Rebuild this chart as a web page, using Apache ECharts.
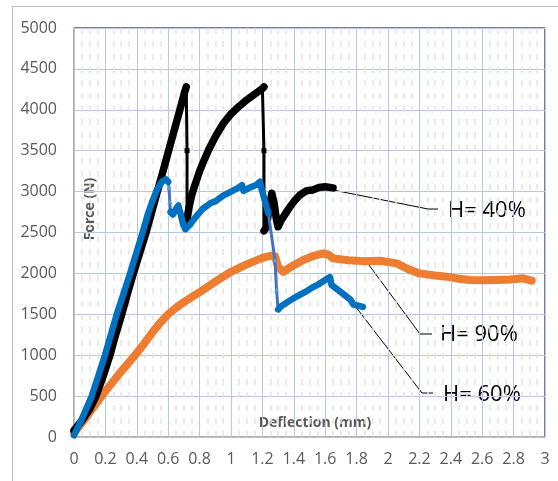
<!DOCTYPE html>
<html>
<head>
<meta charset="utf-8">
<script src="https://cdn.jsdelivr.net/npm/echarts@6/dist/echarts.min.js"></script>
<style>html,body{margin:0;padding:0;background:#fff;}#c{width:558px;height:481px;}</style>
</head>
<body>
<div id="c"></div>
<script>
// Deflection (mm), Force (N)
const h40 = [[0,80],[0.05,200],[0.1,340],[0.14,500],[0.185,740],[0.229,1000],[0.265,1250],[0.304,1500],[0.34,1750],[0.378,2000],[0.42,2260],[0.459,2500],[0.495,2750],[0.531,3000],[0.57,3270],[0.6,3480],[0.65,3830],[0.69,4110],[0.705,4220],[0.715,4280],[0.72,3500],[0.72,2620],[0.725,2720],[0.735,2830],[0.75,2960],[0.77,3080],[0.8,3250],[0.83,3390],[0.86,3520],[0.9,3670],[0.95,3830],[1.0,3950],[1.05,4040],[1.1,4120],[1.15,4190],[1.2,4260],[1.21,4280],[1.21,3500],[1.21,2520],[1.225,2560],[1.24,2760],[1.26,2980],[1.275,2850],[1.29,2650],[1.3,2570],[1.32,2650],[1.35,2740],[1.376,2815],[1.41,2900],[1.44,2960],[1.48,3010],[1.52,3020],[1.56,3050],[1.6,3060],[1.65,3045]];
const h60 = [[0,20],[0.05,220],[0.113,500],[0.155,750],[0.197,1000],[0.235,1250],[0.272,1500],[0.315,1750],[0.357,2000],[0.397,2250],[0.437,2500],[0.47,2720],[0.495,2860],[0.53,3030],[0.56,3120],[0.585,3150],[0.6,3120],[0.605,3050],[0.61,2880],[0.615,2750],[0.63,2720],[0.65,2790],[0.665,2830],[0.68,2720],[0.695,2600],[0.71,2540],[0.74,2600],[0.78,2700],[0.82,2790],[0.85,2830],[0.87,2860],[0.9,2880],[0.95,2950],[1.0,3000],[1.04,3040],[1.07,3080],[1.08,3010],[1.12,3050],[1.16,3080],[1.185,3120],[1.195,3030],[1.238,2734],[1.28,2164],[1.29,1800],[1.3,1560],[1.32,1600],[1.36,1650],[1.42,1720],[1.48,1780],[1.52,1830],[1.56,1870],[1.6,1920],[1.63,1955],[1.64,1860],[1.68,1800],[1.72,1740],[1.76,1680],[1.78,1620],[1.84,1590]];
const h90 = [[0,50],[0.05,170],[0.1,300],[0.176,500],[0.25,680],[0.3,800],[0.389,1000],[0.45,1150],[0.5,1280],[0.55,1400],[0.6,1500],[0.65,1580],[0.7,1650],[0.75,1710],[0.8,1770],[0.9,1900],[1.0,2020],[1.1,2110],[1.2,2190],[1.25,2215],[1.28,2210],[1.3,2080],[1.333,2020],[1.4,2100],[1.46,2164],[1.52,2210],[1.588,2245],[1.62,2230],[1.65,2184],[1.75,2160],[1.84,2150],[1.95,2155],[2.055,2123],[2.12,2060],[2.2,2000],[2.3,1975],[2.374,1960],[2.45,1935],[2.52,1919],[2.6,1915],[2.69,1919],[2.78,1925],[2.86,1940],[2.915,1911]];
const xTicks = {min:0, max:3, step:0.2};
const yTicks = {min:0, max:5000, step:500};
const labels = ['H= 40%','H= 90%','H= 60%'];

// Sparse (steep) stretches are drawn thin; dense stretches thick, as in the source.
function denseOnly(pts, steep) {
  const out = [];
  for (let i = 0; i < pts.length; i++) {
    out.push(pts[i]);
    if (i < pts.length - 1) {
      const dx = pts[i+1][0] - pts[i][0], dy = pts[i+1][1] - pts[i][1];
      if (dx <= 0 || Math.abs(dy / dx) > steep) out.push(null);
    }
  }
  return out;
}

const chart = echarts.init(document.getElementById('c'), null, {renderer:'canvas'});
const thin = (data, color, width, symbol, symColor, z) => ({
  type:'line', data, z, showSymbol:true, showAllSymbol:true, symbol, symbolSize:5,
  itemStyle:{color:symColor, borderWidth:0}, animation:false, silent:true,
  lineStyle:{color, width, join:'round', cap:'round'}
});
const thick = (data, color, width, z) => ({
  type:'line', data, z, showSymbol:false, symbol:'none', animation:false, connectNulls:false, silent:true,
  lineStyle:{color, width, join:'round', cap:'round'}
});
chart.setOption({
  backgroundColor:'#fff',
  animation:false,
  grid:{left:74, right:13, top:28, bottom:44, show:true, borderColor:'#000', borderWidth:1, backgroundColor:'transparent'},
  xAxis:{type:'value', min:xTicks.min, max:xTicks.max, interval:xTicks.step,
    axisLine:{lineStyle:{color:'#bfbfbf', width:1.5}}, axisTick:{show:false},
    axisLabel:{color:'#595959', fontSize:16, fontFamily:'Open Sans', margin:14, formatter:v=>String(+v.toFixed(1))},
    splitLine:{lineStyle:{color:'#b4c7e7', width:1}},
    minorTick:{show:false, splitNumber:4},
    minorSplitLine:{show:true, lineStyle:{color:'#e3e3e3', width:1.5, type:[6,7]}}
  },
  yAxis:{type:'value', min:yTicks.min, max:yTicks.max, interval:yTicks.step,
    axisLine:{show:true, lineStyle:{color:'#bfbfbf', width:1.5}}, axisTick:{show:false},
    axisLabel:{color:'#595959', fontSize:16, fontFamily:'Open Sans', margin:17, formatter:v=>String(v)},
    splitLine:{lineStyle:{color:'#b4c7e7', width:1}}
  },
  series:[
    thin(h90, '#ED7D31', 3, 'circle', '#ED7D31', 2),
    thick(denseOnly(h90, 20000), '#ED7D31', 8, 3),
    thin(h40, '#000000', 3, 'rect', '#000000', 4),
    thick(denseOnly(h40, 20000), '#000000', 7.5, 5),
    thin(h60, '#4472C4', 3, 'triangle', '#5B9BD5', 6),
    thick(denseOnly(h60, 11000), '#0070C0', 6.5, 7)
  ],
  graphic:[
    {type:'rect', shape:{x:12.5, y:6.5, width:600, height:600}, style:{fill:'none', stroke:'#bfbfbf', lineWidth:1}, z:-10},
    {type:'text', x:90, y:209, rotation:Math.PI/2, style:{text:'Force (N)', fill:'#595959', fontFamily:'Open Sans', fontWeight:'bold', fontSize:14, align:'center', verticalAlign:'middle'}},
    {type:'text', x:315, y:423, style:{text:'Deflection (mm)', fill:'#595959', fontFamily:'Open Sans', fontWeight:'bold', fontSize:14, align:'center', verticalAlign:'middle'}},
    {type:'polyline', shape:{points:[[333,190],[428,209],[438,209]]}, style:{stroke:'#000', lineWidth:1, fill:'none'}},
    {type:'polyline', shape:{points:[[366,261],[420,334],[432,334]]}, style:{stroke:'#000', lineWidth:1, fill:'none'}},
    {type:'polyline', shape:{points:[[352,302],[422,393],[433,393]]}, style:{stroke:'#000', lineWidth:1, fill:'none'}},
    {type:'text', x:448, y:211, style:{text:labels[0], fill:'#000', fontFamily:'Open Sans', fontSize:22, align:'left', verticalAlign:'middle'}},
    {type:'text', x:440, y:335, style:{text:labels[1], fill:'#000', fontFamily:'Open Sans', fontSize:22, align:'left', verticalAlign:'middle'}},
    {type:'text', x:443, y:395, style:{text:labels[2], fill:'#000', fontFamily:'Open Sans', fontSize:22, align:'left', verticalAlign:'middle'}}
  ]
});
</script>
</body>
</html>
